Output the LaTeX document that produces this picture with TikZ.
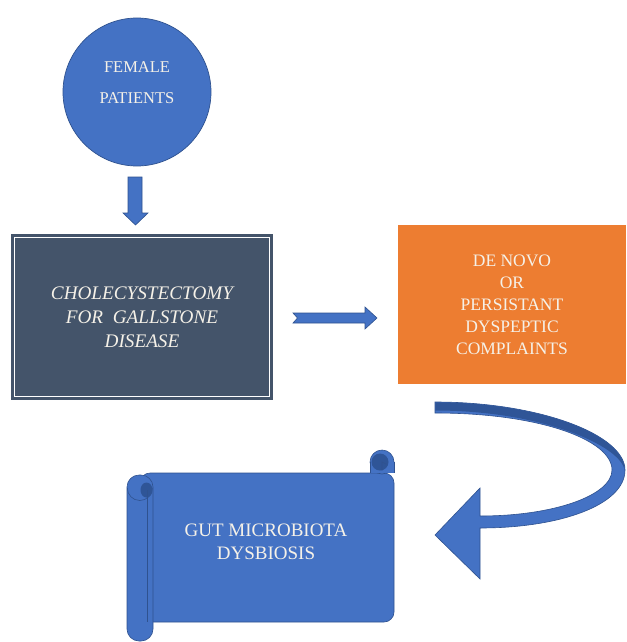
\documentclass[tikz,border=0pt]{standalone}
\usepackage{fontspec}
\setmainfont{Liberation Serif}
\definecolor{blu}{HTML}{4472C4}
\definecolor{bluedge}{HTML}{2F528F}
\definecolor{bludark}{HTML}{2F5597}
\definecolor{slate}{HTML}{44546A}
\definecolor{orng}{HTML}{ED7D31}
\definecolor{txt}{HTML}{F5F1E8}
\tikzset{
  lbl/.style={text=txt, align=center, inner sep=0pt},
  blockarrow/.style={fill=blu, draw=bluedge, line width=0.6pt},
}
\begin{document}
\begin{tikzpicture}[x=1pt,y=-1pt]
\useasboundingbox[fill=white] (0,0) rectangle (626,642);

% female patients circle
\node[circle, fill=blu, draw=bluedge, line width=0.7pt, minimum size=148pt, inner sep=0pt] (fp) at (137,92) {};
\node[lbl, font=\fontsize{16.5}{18}\selectfont] (fpa) at (137,67) {FEMALE};
\node[lbl, font=\fontsize{16.5}{18}\selectfont] (fpb) at (137,98) {PATIENTS};

% cholecystectomy box
\node[fill=slate, minimum width=262pt, minimum height=166pt, inner sep=0pt,
      lbl, font=\fontsize{19.2}{24}\itshape\selectfont] (chol) at (142,317)
      {CHOLECYSTECTOMY\\FOR\ \ GALLSTONE\\DISEASE};
\draw[white, line width=1.3pt] ([shift={(3.5,3.5)}]chol.north west) rectangle ([shift={(-3.5,-3.5)}]chol.south east);

% orange box
\node[fill=orng, minimum width=228pt, minimum height=159pt, inner sep=0pt,
      lbl, font=\fontsize{17.5}{22}\selectfont] (dn) at (512,304.5)
      {DE NOVO\\OR\\PERSISTANT\\DYSPEPTIC\\COMPLAINTS};

% down arrow
\draw[blockarrow] (128,177) -- (142,177) -- (142,213) -- (148,213) -- (135.5,225) -- (123,213) -- (128,213) -- cycle;

% right notched arrow
\draw[blockarrow] (293,313) -- (365,313) -- (365,307) -- (377,318) -- (365,329) -- (365,323) -- (293,323) -- (297.5,318) -- cycle;

% curved arrow
\draw[blockarrow]
  (435,402) .. controls (540,402) and (625,435) .. (625,470)
  .. controls (625,505) and (560,528) .. (480,528)
  -- (480,579) -- (435,535) -- (480,488) -- (480,516)
  .. controls (555,516) and (612,495) .. (612,470)
  .. controls (612,440) and (540,413) .. (435,413) -- cycle;
\fill[bludark]
  (435.3,402.3) .. controls (540,402.3) and (624.6,435) .. (624.6,470)
  .. controls (620,445) and (540,410.5) .. (435.3,410.5) -- cycle;

% scroll: main body
\draw[blockarrow, rounded corners=10pt] (140,473) rectangle (394,622);
% right roll
\draw[blockarrow] (382,462) circle (12);
\fill[blu] (370.3,462) rectangle (393.7,472.7);
\draw[bluedge, line width=0.6pt] (370,462) -- (370,473) (394,462) -- (394,473);
\fill[bludark] (380,462) circle (8.5);
\draw[bluedge, line width=0.6pt] (382,470.5) -- (382,462) -- (386,464);
% left roll
\draw[blockarrow, rounded corners=12pt] (127,475) rectangle (153,641);
\draw[bluedge, line width=0.6pt] (127.3,488) arc[start angle=180, end angle=0, radius=12.5];
\fill[bludark] (146.5,490) ellipse (6 and 7.5);
\draw[bluedge, line width=0.6pt] (147,490) -- (147,622);

\node[lbl, font=\fontsize{19}{23}\selectfont] (gut) at (266,542) {GUT MICROBIOTA\\DYSBIOSIS};
\end{tikzpicture}
\end{document}
